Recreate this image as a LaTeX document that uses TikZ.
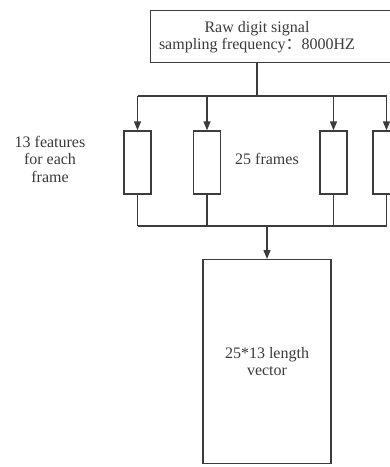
\documentclass[tikz,border=0pt]{standalone}
\usepackage{fontspec}
\setmainfont{Liberation Serif}
\newfontfamily\cjk{Noto Sans CJK SC}
\usetikzlibrary{arrows.meta}

\definecolor{linegray}{HTML}{3C3C3C}
\definecolor{textgray}{HTML}{3A3A3A}

\tikzset{
    line/.style={draw=linegray, line width=1.3pt},
    arr/.style={line, -{Triangle[width=7pt,length=9pt]}},
    box/.style={line, rectangle, inner sep=0pt},
    txt/.style={text=textgray, align=center, font=\fontsize{16}{17.5}\selectfont}
}

\begin{document}
\begin{tikzpicture}[x=1pt, y=-1pt]
    \useasboundingbox (0,0) rectangle (390,467);
    \clip (0,0) rectangle (390,467);

    % Input signal box (runs past the right edge)
    \node[box, minimum width=260, minimum height=52, anchor=north west] (raw) at (150,10) {};
    \node[txt] (rawtext) at (257,37) {Raw digit signal\\sampling frequency{\cjk ：}8000HZ};

    % Frames
    \foreach \i/\x in {1/137.5, 2/207, 3/333.5, 4/386.5} {
        \node[box, minimum width=27, minimum height=63] (f\i) at (\x,162.5) {};
    }
    \node[txt] (framestext) at (267,159) {25 frames};
    \node[txt] (featurestext) at (50,159) {13 features\\for each\\frame};

    % Output vector
    \node[box, minimum width=128, minimum height=204, anchor=north] (vec) at (267,259) {};
    \node[txt] (vectext) at (vec) {25*13 length\\vector};

    % Bus lines
    \coordinate (bustop) at (257,96);
    \coordinate (busbot) at (267,226);

    \draw[line] (raw.south -| rawtext) -- (bustop);
    \draw[line] (f1.north |- bustop) -- (f4.north |- bustop);
    \foreach \i in {1,...,4} {
        \draw[arr] (f\i.north |- bustop) -- (f\i.north);
        \draw[line] (f\i.south) -- (f\i.south |- busbot);
    }
    \draw[line] (f1.south |- busbot) -- (f4.south |- busbot);
    \draw[arr] (busbot) -- (vec.north);
\end{tikzpicture}
\end{document}
